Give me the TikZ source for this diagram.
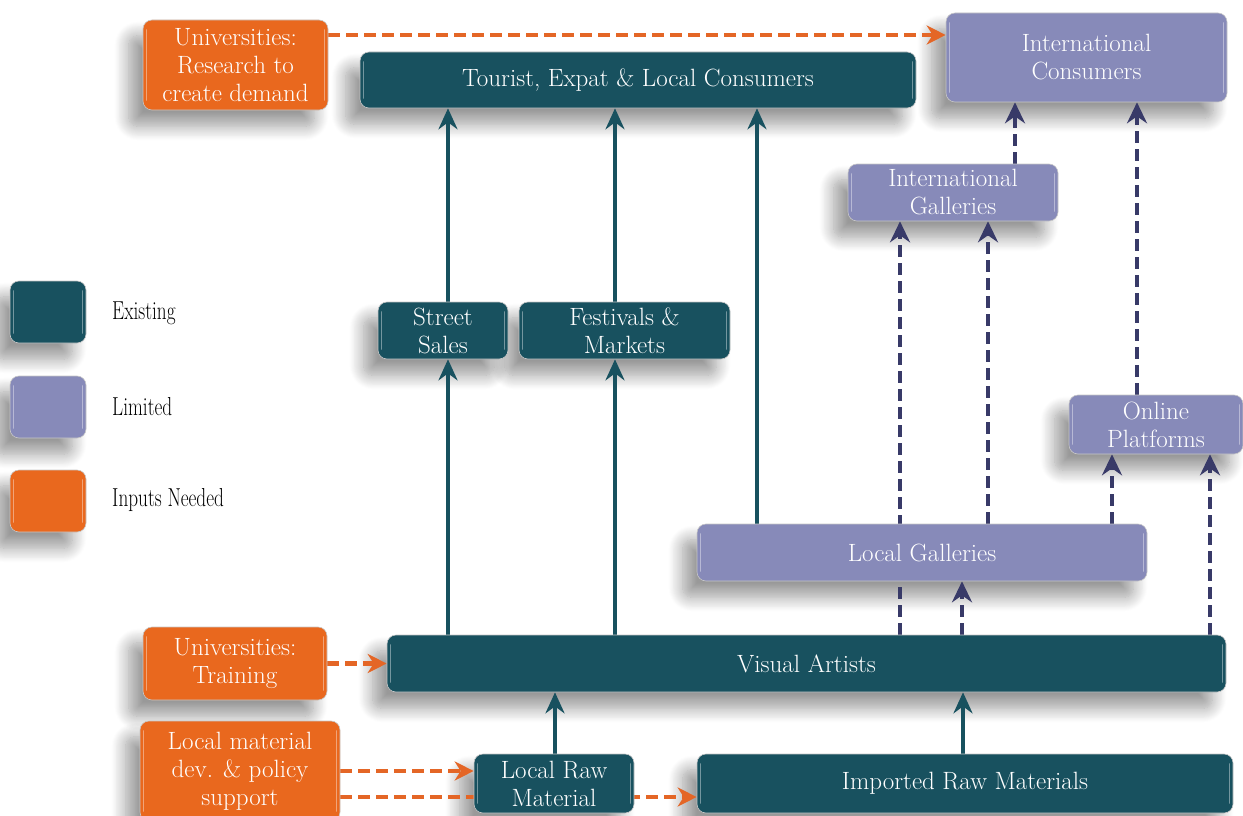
\documentclass[tikz,border=0pt]{standalone}
\usepackage{graphicx}
\usetikzlibrary{arrows.meta,shadows.blur}

\definecolor{tealbox}{RGB}{24,81,95}
\definecolor{lilac}{RGB}{135,138,185}
\definecolor{orangebox}{RGB}{233,104,30}
\definecolor{customsfill}{RGB}{246,194,162}
\definecolor{navyline}{RGB}{56,58,104}
\definecolor{orangeline}{RGB}{228,102,38}

\pgfdeclarelayer{back}
\pgfdeclarelayer{shade}
\pgfdeclarelayer{conn}
\pgfsetlayers{back,shade,conn,main}

\newcommand{\boxfont}{\fontsize{25}{28}\selectfont}

\tikzset{
  sz/.style 2 args={minimum width=#1pt, minimum height=#2pt},
  gloss/.style={path picture={
    \draw[white,opacity=.4,line width=1.6pt,line cap=round]
      ([xshift=3.5pt,yshift=-10pt]path picture bounding box.north west) --
      ([xshift=3.5pt,yshift=10pt]path picture bounding box.south west)
      ([xshift=-3.5pt,yshift=-10pt]path picture bounding box.north east) --
      ([xshift=-3.5pt,yshift=10pt]path picture bounding box.south east);}},
  box/.style={rounded corners=9pt, draw=black!22, line width=0.6pt,
    text=white, align=center, inner sep=0pt, font=\boxfont, gloss},
  existing/.style={box, fill=tealbox},
  limited/.style={box, fill=lilac},
  inputbox/.style={box, fill=orangebox},
  customsbox/.style={rounded corners=10pt, fill=customsfill,
    draw=customsfill!70!white, line width=3pt, text=tealbox, font=\boxfont},
  legendtext/.style={anchor=west, inner sep=0pt, font=\fontsize{26}{30}\selectfont},
  boxshadow/.style={blur shadow={shadow xshift=-14pt, shadow yshift=-16pt,
    shadow blur radius=14pt, shadow blur steps=16, shadow opacity=40}},
  tealarrow/.style={draw=tealbox, line width=3.5pt,
    -{Stealth[length=21pt,width=19pt,inset=7pt]}},
  navyarrow/.style={draw=navyline, line width=4.5pt, dash pattern=on 12pt off 6pt,
    -{Stealth[length=21pt,width=20pt,inset=7pt]}},
  orangearrow/.style={draw=orangeline, line width=4.5pt, dash pattern=on 12pt off 6pt,
    -{Stealth[length=19pt,width=19pt,inset=6pt]}},
}

\begin{document}
\begin{tikzpicture}[x=1pt,y=-1pt]
\useasboundingbox (0,0) rectangle (1243,816);

% ---- boxes of the value chain ----
\node[inputbox, sz={185}{90}]  (unires)   at (235.5,65)   {Universities:\\Research to\\create demand};
\node[existing, sz={556}{56}]  (tourist)  at (638,80)     {Tourist, Expat \& Local Consumers};
\node[limited,  sz={281}{89}]  (intcons)  at (1086.5,57.5){International\\Consumers};
\node[limited,  sz={210}{57}]  (intgal)   at (953,192.5)  {International\\Galleries};
\node[existing, sz={130}{57}]  (street)   at (443,330.5)  {Street\\Sales};
\node[existing, sz={211}{57}]  (fest)     at (624.5,330.5){Festivals \&\\Markets};
\node[limited,  sz={174}{59}]  (online)   at (1156,424.5) {Online\\Platforms};
\node[limited,  sz={450}{57}]  (localgal) at (922,552.5)  {Local Galleries};
\node[inputbox, sz={184}{73}]  (unitrain) at (235,663.5)  {Universities:\\Training};
\node[existing, sz={839}{57}]  (artists)  at (806.5,663.5){Visual Artists};
\node[inputbox, sz={200}{100}] (localmat) at (240,771)    {Local material\\dev. \& policy\\support};
\node[existing, sz={160}{59}]  (localraw) at (554,783.5)  {Local Raw\\Material};
\node[existing, sz={536}{59}]  (imported) at (965,783.5)  {Imported Raw Materials};

% ---- legend ----
\node[existing, sz={76}{62}]  (legA) at (48,312) {};
\node[limited,  sz={76}{62}]  (legB) at (48,407) {};
\node[inputbox, sz={76}{62}]  (legC) at (48,501) {};
\node[legendtext] (legAt) at (112,313) {\scalebox{0.74}[1]{Existing}};
\node[legendtext] (legBt) at (112,407) {\scalebox{0.74}[1]{Limited}};
\node[legendtext] (legCt) at (112,500) {\scalebox{0.74}[1]{Inputs Needed}};

% ---- customs band, behind everything ----
\begin{pgfonlayer}{back}
\node[customsbox, sz={383}{67}] (customs) at (1046.5,322.5) {Customs};
\end{pgfonlayer}

% ---- drop shadows ----
\begin{pgfonlayer}{shade}
\foreach \n in {unires,tourist,intcons,intgal,street,fest,online,localgal,
                unitrain,artists,localmat,localraw,imported,legA,legB,legC}
  \path[boxshadow, rounded corners=9pt] (\n.south west) rectangle (\n.north east);
\end{pgfonlayer}

% ---- connector columns and rows ----
\coordinate (cA) at (448,0);
\coordinate (cB) at (615,0);
\coordinate (cC) at (757,0);
\coordinate (cD) at (900,0);
\coordinate (cE) at (962,0);
\coordinate (cF) at (988,0);
\coordinate (cG) at (1015,0);
\coordinate (cH) at (1112,0);
\coordinate (cI) at (1137,0);
\coordinate (cJ) at (1210,0);
\coordinate (cK) at (555,0);
\coordinate (cL) at (963,0);
\coordinate (r1) at (0,35);
\coordinate (r3) at (0,771);
\coordinate (r4) at (0,797);

\begin{pgfonlayer}{conn}
% existing channels
\draw[tealarrow] (cA |- artists.north)  -- (cA |- street.south);
\draw[tealarrow] (cA |- street.north)   -- (cA |- tourist.south);
\draw[tealarrow] (cB |- artists.north)  -- (cB |- fest.south);
\draw[tealarrow] (cB |- fest.north)     -- (cB |- tourist.south);
\draw[tealarrow] (cC |- localgal.north) -- (cC |- tourist.south);
\draw[tealarrow] (cK |- localraw.north) -- (cK |- artists.south);
\draw[tealarrow] (cL |- imported.north) -- (cL |- artists.south);
% limited channels
\draw[navyarrow] (cD |- artists.north)  -- (cD |- intgal.south);
\draw[navyarrow] (cE |- artists.north)  -- (cE |- localgal.south);
\draw[navyarrow] (cF |- localgal.north) -- (cF |- intgal.south);
\draw[navyarrow] (cH |- localgal.north) -- (cH |- online.south);
\draw[navyarrow] (cJ |- artists.north)  -- (cJ |- online.south);
\draw[navyarrow] (cG |- intgal.north)   -- (cG |- intcons.south);
\draw[navyarrow] (cI |- online.north)   -- (cI |- intcons.south);
% inputs needed
\draw[orangearrow] (unires.east |- r1)   -- (intcons.west |- r1);
\draw[orangearrow] (unitrain.east)       -- (artists.west);
\draw[orangearrow] (localmat.east |- r3) -- (localraw.west |- r3);
\draw[orangearrow] (localmat.east |- r4) -- (imported.west |- r4);
\end{pgfonlayer}
\end{tikzpicture}
\end{document}
